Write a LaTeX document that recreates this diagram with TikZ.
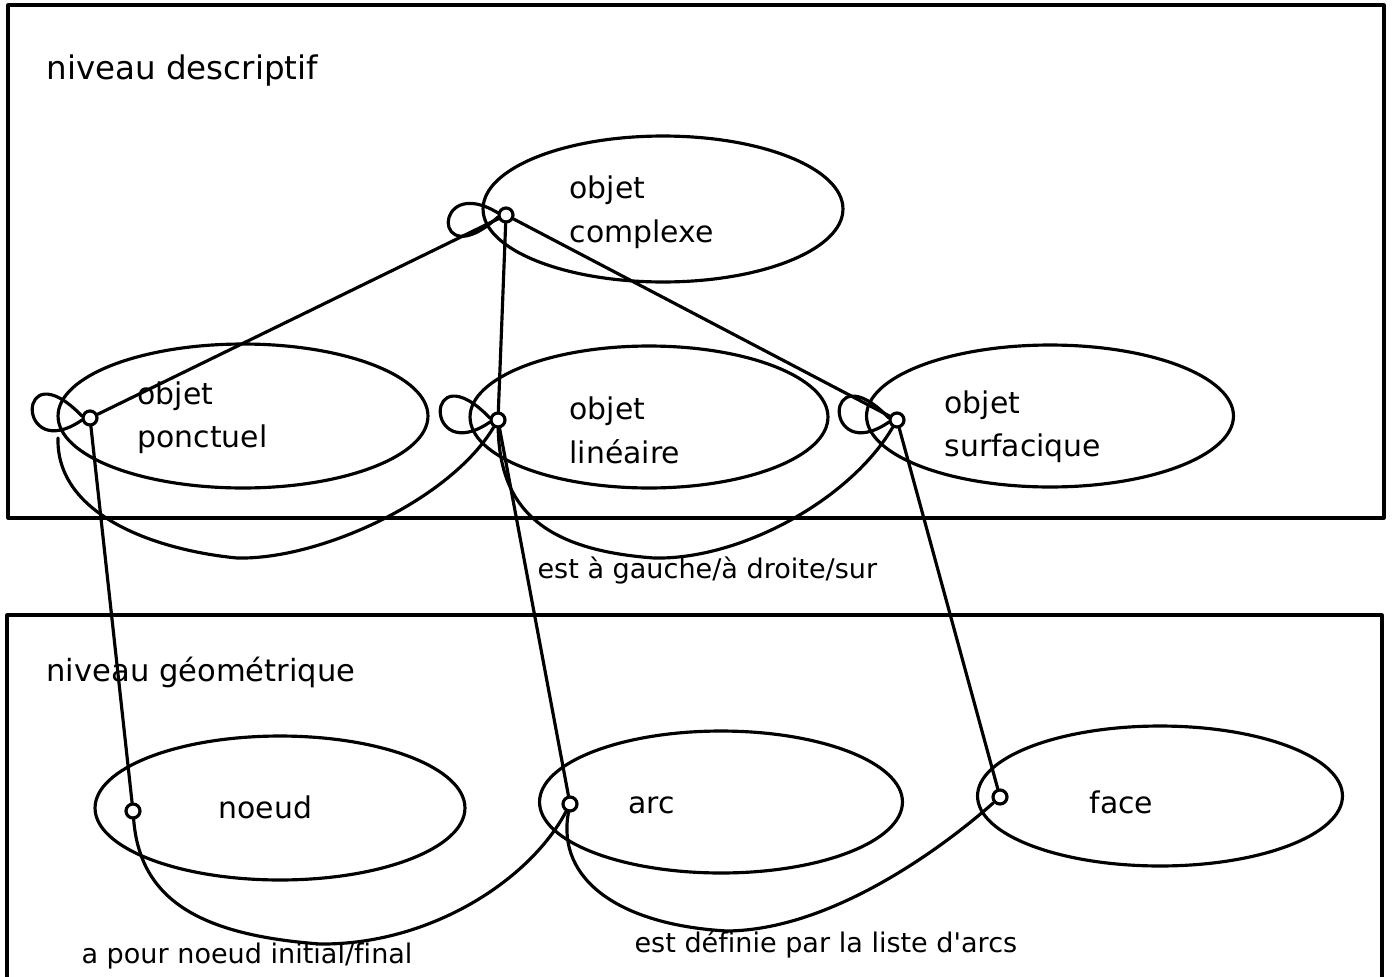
\documentclass[tikz,border=0pt]{standalone}
\usepackage{fontspec}
\newfontfamily\labelfont{DejaVu Sans}[Ligatures=NoCommon]
\usetikzlibrary{shapes.geometric}
\begin{document}
\begin{tikzpicture}[x=0.02cm, y=-0.02cm,
  every path/.style={line width=1.8pt, line join=round, line cap=round},
  ell/.style={draw, ellipse, inner sep=0pt, line width=1.8pt},
  port/.style={draw, circle, fill=white, inner sep=0pt, minimum size=0.28cm, line width=1.8pt},
  big/.style={inner sep=0pt, anchor=base west, font=\labelfont\fontsize{17}{20}\selectfont},
  small/.style={inner sep=0pt, anchor=base west, font=\labelfont\fontsize{15.4}{18}\selectfont},
  levelbox/.style={draw, line width=1.8pt},
]
\useasboundingbox (0,0) rectangle (1393,977);

% the two levels
\draw[levelbox] (8,5) rectangle (1384,518);
\draw[levelbox] (7,977) -- (7,615) -- (1382,615) -- (1382,977);

% classes of the descriptive level
\node[ell, minimum width=7.2cm, minimum height=2.92cm] (cx) at (663,209) {};
\node[ell, minimum width=7.4cm, minimum height=2.88cm] (pt) at (243,416) {};
\node[ell, minimum width=7.16cm, minimum height=2.84cm] (li) at (649,417) {};
\node[ell, minimum width=7.34cm, minimum height=2.84cm] (su) at (1050,416) {};

% classes of the geometric level
\node[ell, minimum width=7.4cm, minimum height=2.88cm] (nd) at (280,808) {};
\node[ell, minimum width=7.26cm, minimum height=2.84cm] (ar) at (721,802) {};
\node[ell, minimum width=7.3cm, minimum height=2.8cm] (fa) at (1160,796) {};

% labels
\node[big, font=\labelfont\fontsize{18.5}{20}\selectfont] (tdesc) at (45,79) {niveau descriptif};
\node[big] (tcx1) at (568,198) {objet};
\node[big] (tcx2) at (568,242) {complexe};
\node[big] (tpt1) at (136,404) {objet};
\node[big] (tpt2) at (136,447) {ponctuel};
\node[big] (tli1) at (568,419) {objet};
\node[big] (tli2) at (568,463) {linéaire};
\node[big] (tsu1) at (943,413) {objet};
\node[big] (tsu2) at (943,456) {surfacique};
\node[small] (trel1) at (536,578) {est à gauche/à droite/sur};
\node[big, font=\labelfont\fontsize{17.4}{20}\selectfont] (tgeo) at (45,681) {niveau géométrique};
\node[big] (tnd) at (217,818) {noeud};
\node[big] (tar) at (627,813) {arc};
\node[big] (tfa) at (1088,813) {face};
\node[small] (trel2) at (80,963) {a pour noeud initial/final};
\node[small] (trel3) at (633,952) {est définie par la liste d'arcs};

% attachment points
\node[port] (pcx) at (506,215) {};
\node[port] (ppt) at (90,418) {};
\node[port] (pli) at (498,420) {};
\node[port] (psu) at (897,420) {};
\node[port] (pnd) at (133,811) {};
\node[port] (par) at (570,804) {};
\node[port] (pfa) at (1000,797) {};
\coordinate (ptfoot) at (58,438);

% composition links
\draw (pcx) -- (ppt);
\draw (pcx) -- (pli);
\draw (pcx) -- (psu);

% links between the two levels
\draw (ppt) -- (pnd);
\draw (pli) -- (par);
\draw (psu) -- (pfa);

% reflexive links
\draw (pcx.165) .. controls +(-66,-40) and +(-66,60) .. (pcx.195);
\draw (ppt.165) .. controls +(-66,-68) and +(-66,45) .. (ppt.195);
\draw (pli.165) .. controls +(-66,-68) and +(-66,45) .. (pli.195);
\draw (psu.165) .. controls +(-66,-68) and +(-66,45) .. (psu.195);

% relation: est a gauche / a droite / sur
\draw (ptfoot) .. controls (56,515) and (155,550) .. (237,558)
      .. controls (320,560) and (450,500) .. (pli);
\draw (pli) .. controls (500,510) and (545,550) .. (654,558)
      .. controls (740,560) and (850,500) .. (psu);

% relation: a pour noeud initial / final
\draw (pnd) .. controls (140,900) and (200,935) .. (320,944)
      .. controls (430,945) and (530,880) .. (par);

% relation: est definie par la liste d'arcs
\draw (par) .. controls (556,880) and (620,925) .. (727,931)
      .. controls (830,930) and (940,850) .. (pfa);
\end{tikzpicture}
\end{document}
